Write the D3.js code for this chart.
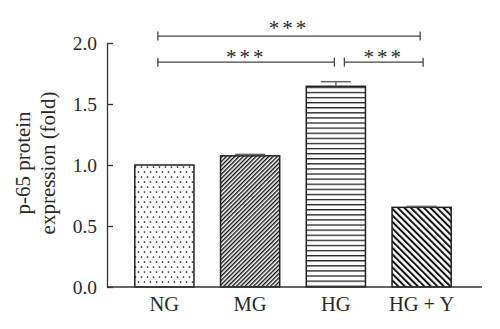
<!DOCTYPE html>
<html>
<head>
<meta charset="utf-8">
<script src="https://cdn.jsdelivr.net/npm/d3@7"></script>
<style>
  html, body { margin: 0; padding: 0; background: #fff; }
  svg { display: block; }
  text { font-family: "Liberation Serif", "DejaVu Serif", "Times New Roman", serif; fill: #2a2a2a; }
</style>
</head>
<body>
<svg id="chart" width="500" height="329"></svg>
<script>
// ---- data ----
const categories = ["NG", "MG", "HG", "HG + Y"];
const values = [1.0, 1.075, 1.645, 0.653];
const errors = [0, 0.012, 0.038, 0.008];
const patterns = ["dots", "hatchRight", "horiz", "hatchLeft"];
const yTicks = [0.0, 0.5, 1.0, 1.5, 2.0];
const yLabelLines = ["p-65 protein", "expression (fold)"];
const bracketFrom = [0, 0, 2];
const bracketTo = [3, 2, 3];
const bracketLevel = [2.057, 1.843, 1.843];
const bracketLabel = ["***", "***", "***"];

// ---- layout ----
const svg = d3.select("#chart");
const axisX0 = 107, axisX1 = 482;
const y = d3.scaleLinear().domain([0, 2]).range([287, 43]);
const x = d3.scaleBand().domain(categories).range([121.5, 464.5])
  .paddingInner(0.31).paddingOuter(0.155);

// ---- patterns ----
const defs = svg.append("defs");
const pDots = defs.append("pattern").attr("id", "dots").attr("patternUnits", "userSpaceOnUse")
  .attr("width", 6).attr("height", 10).attr("x", 137).attr("y", 0);
pDots.append("rect").attr("width", 6).attr("height", 10).attr("fill", "#fff");
pDots.append("circle").attr("cx", 1.5).attr("cy", 2).attr("r", 0.85).attr("fill", "#111");
pDots.append("circle").attr("cx", 4.5).attr("cy", 7).attr("r", 0.85).attr("fill", "#111");

const pR = defs.append("pattern").attr("id", "hatchRight").attr("patternUnits", "userSpaceOnUse")
  .attr("width", 3).attr("height", 3).attr("patternTransform", "rotate(45)");
pR.append("rect").attr("width", 3).attr("height", 3).attr("fill", "#fff");
pR.append("rect").attr("width", 1.4).attr("height", 3).attr("fill", "#111");

const pH = defs.append("pattern").attr("id", "horiz").attr("patternUnits", "userSpaceOnUse")
  .attr("width", 10).attr("height", 5.1).attr("y", 0);
pH.append("rect").attr("width", 10).attr("height", 5.1).attr("fill", "#fff");
pH.append("rect").attr("y", 0).attr("width", 10).attr("height", 1.3).attr("fill", "#222");

const pL = defs.append("pattern").attr("id", "hatchLeft").attr("patternUnits", "userSpaceOnUse")
  .attr("width", 4.6).attr("height", 4.6).attr("patternTransform", "rotate(-45)");
pL.append("rect").attr("width", 4.6).attr("height", 4.6).attr("fill", "#fff");
pL.append("rect").attr("width", 2).attr("height", 4.6).attr("fill", "#111");

// ---- bars ----
const data = categories.map((c, i) => ({ c, v: values[i], e: errors[i], p: patterns[i] }));
svg.append("g").selectAll("rect").data(data).join("rect")
  .attr("x", d => x(d.c))
  .attr("y", d => y(d.v))
  .attr("width", x.bandwidth())
  .attr("height", d => y(0) - y(d.v))
  .attr("fill", d => `url(#${d.p})`)
  .attr("stroke", "#222")
  .attr("stroke-width", 1.5);

// ---- error bars ----
const eb = svg.append("g").attr("stroke", "#666").attr("stroke-width", 1.5);
data.filter(d => d.e > 0).forEach(d => {
  const cx = x(d.c) + x.bandwidth() / 2;
  eb.append("line").attr("x1", cx).attr("x2", cx).attr("y1", y(d.v)).attr("y2", y(d.v + d.e));
  eb.append("line").attr("x1", cx - 15).attr("x2", cx + 15).attr("y1", y(d.v + d.e)).attr("y2", y(d.v + d.e));
});

// ---- axes ----
const yAxis = d3.axisLeft(y).tickValues(yTicks).tickFormat(d3.format(".1f"))
  .tickSize(-6).tickSizeOuter(0).tickPadding(10);
const gy = svg.append("g").attr("transform", `translate(${axisX0},0)`).call(yAxis)
  .attr("font-family", null).attr("font-size", null);
gy.select(".domain").attr("stroke", "#333").attr("stroke-width", 1.3);
gy.selectAll(".tick line").attr("stroke", "#333").attr("stroke-width", 1.3);
gy.selectAll(".tick text").attr("font-size", 19.5).attr("fill", "#2a2a2a");

svg.append("line").attr("x1", axisX0).attr("x2", axisX1).attr("y1", y(0)).attr("y2", y(0))
  .attr("stroke", "#333").attr("stroke-width", 1.3);

svg.append("g").selectAll("text").data(categories).join("text")
  .attr("x", d => x(d) + x.bandwidth() / 2)
  .attr("y", 311)
  .attr("text-anchor", "middle")
  .attr("font-size", 20.5)
  .text(d => d);

// ---- y label ----
const yl = svg.append("text").attr("transform", "translate(0,163) rotate(-90)")
  .attr("text-anchor", "middle").attr("font-size", 21);
yLabelLines.forEach((t, i) => {
  yl.append("tspan").attr("x", 0).attr("y", 30 + i * 25).text(t);
});

// ---- significance brackets ----
const bg = svg.append("g");
const center = i => x(categories[i]) + x.bandwidth() / 2;
bracketFrom.forEach((f, i) => {
  const t = bracketTo[i];
  let x1 = center(f) - 6.5, x2 = center(t) - 1.5;
  if (f === 2) { x1 = center(f) + 8.5; x2 = center(t) + 1.5; }
  const yy = y(bracketLevel[i]);
  bg.append("line").attr("x1", x1).attr("x2", x2).attr("y1", yy).attr("y2", yy)
    .attr("stroke", "#444").attr("stroke-width", 1.3);
  [x1, x2].forEach(xx => bg.append("line").attr("x1", xx).attr("x2", xx)
    .attr("y1", yy - 4.5).attr("y2", yy + 4.5).attr("stroke", "#444").attr("stroke-width", 1.3));
  bg.append("text").attr("x", (x1 + x2) / 2).attr("y", i === 0 ? yy - 1.5 : yy + 1.5)
    .attr("text-anchor", "middle").attr("font-size", 21).attr("letter-spacing", 3)
    .attr("fill", "#555").text(bracketLabel[i]);
});
</script>
</body>
</html>
